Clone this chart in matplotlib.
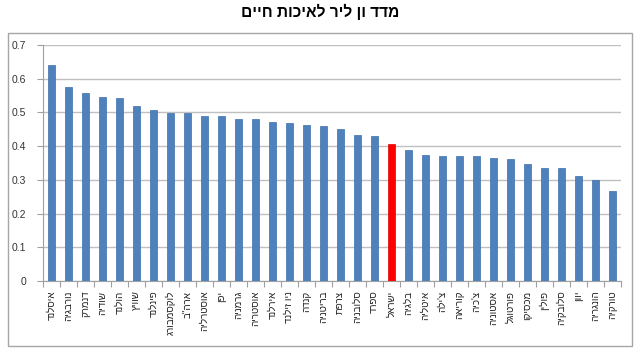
import matplotlib
matplotlib.use("Agg")
import matplotlib.pyplot as plt
from matplotlib.patches import Rectangle
import numpy as np

plt.rcParams['font.family'] = ['Liberation Sans', 'DejaVu Sans']

title = "מדד ון ליר לאיכות חיים"
countries = ["איסלנד", "נורבגיה", "דנמרק", "שודיה", "הולנד", "שוויץ", "פינלנד",
             "לוקסמבורג", "ארה\"ב", "אוסטרליה", "יפן", "גרמניה", "אוסטריה", "אירלנד",
             "ניו זילנד", "קנדה", "בריטניה", "צרפת", "סלובניה", "ספרד", "ישראל",
             "בלגיה", "איטליה", "צ'ילה", "קוריאה", "צ'כיה", "אסטוניה", "פורטוגל",
             "מכסיקו", "פולין", "סלובקיה", "יוון", "הונגריה", "טורקיה"]
values = [0.640, 0.576, 0.558, 0.546, 0.544, 0.519, 0.506, 0.499, 0.499, 0.490,
          0.490, 0.481, 0.481, 0.472, 0.469, 0.464, 0.461, 0.451, 0.433, 0.430,
          0.406, 0.389, 0.375, 0.372, 0.370, 0.370, 0.365, 0.363, 0.346, 0.336,
          0.336, 0.310, 0.299, 0.266]
highlight = "ישראל"
yticks = [0, 0.1, 0.2, 0.3, 0.4, 0.5, 0.6, 0.7]
ytick_labels = ["0", "0.1", "0.2", "0.3", "0.4", "0.5", "0.6", "0.7"]


def vis(s):
    # visual (RTL) order for display
    return s[::-1]


fig = plt.figure(figsize=(6.4, 3.6), dpi=100)
fig.patch.set_facecolor('white')

# chart area border
fig.patches.append(Rectangle((8 / 640, 1 - 346 / 360), 624 / 640, 313 / 360,
                             transform=fig.transFigure, fill=False,
                             edgecolor='#a6a6a6', linewidth=1.0))

fig.text(0.5, 1 - 12 / 360, vis(title), ha='center', va='center',
         fontsize=11.2, fontweight='bold', color='black')

ax = fig.add_axes([42.7 / 640, 1 - 281 / 360, 578 / 640, 236 / 360])
x = np.arange(len(countries))
colors = ['#ff0000' if c == highlight else '#4f81bd' for c in countries]
edges = ['#e00000' if c == highlight else '#3e6fa8' for c in countries]
ax.bar(x, values, width=0.42, color=colors, edgecolor=edges, linewidth=0.5, zorder=3)

ax.set_xlim(-0.5, len(countries) - 0.5)
ax.set_ylim(0, 0.7)
ax.set_yticks(yticks)
ax.set_yticklabels(ytick_labels, fontsize=7.5, color='#333333')
ax.yaxis.grid(True, color='#c0c0c0', linewidth=1.0, zorder=0)
ax.set_axisbelow(True)

ax.set_xticks(x)
ax.set_xticklabels([vis(c) for c in countries], rotation=90, fontsize=7,
                   ha='center', va='top', color='#222222')
ax.tick_params(axis='x', length=0, pad=7)
ax.set_xticks(np.arange(-0.5, len(countries), 1), minor=True)
ax.tick_params(axis='x', which='minor', length=4, color='#a0a0a0', width=0.8)
ax.tick_params(axis='y', length=4, color='#a0a0a0', width=0.8, pad=8)

for s in ['top', 'right']:
    ax.spines[s].set_visible(False)
for s in ['left', 'bottom']:
    ax.spines[s].set_color('#a0a0a0')
    ax.spines[s].set_linewidth(0.8)

fig.savefig('out.png', dpi=100, facecolor='white')
